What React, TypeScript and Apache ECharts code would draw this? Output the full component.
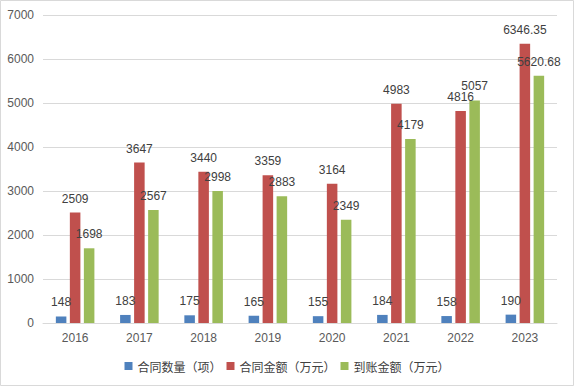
import React, { useEffect, useRef } from "react";
import * as echarts from "echarts";

const years = ["2016", "2017", "2018", "2019", "2020", "2021", "2022", "2023"];
const contractCount = [148, 183, 175, 165, 155, 184, 158, 190];
const contractAmount = [2509, 3647, 3440, 3359, 3164, 4983, 4816, 6346.35];
const receivedAmount = [1698, 2567, 2998, 2883, 2349, 4179, 5057, 5620.68];
const seriesNames = ["合同数量（项）", "合同金额（万元）", "到账金额（万元）"];
const colors = ["#4F81BD", "#C0504D", "#9BBB59"];

export default function App() {
  const ref = useRef<HTMLDivElement>(null);
  useEffect(() => {
    if (!ref.current) return;
    const chart = echarts.init(ref.current, null, { renderer: "svg" });
    const numFont = "'Liberation Sans', Arial, sans-serif";
    const label = {
      show: true,
      position: "top",
      distance: 8,
      color: "#404040",
      fontSize: 12,
      fontFamily: numFont,
    };
    const datas = [contractCount, contractAmount, receivedAmount];
    chart.setOption({
      animation: false,
      backgroundColor: "#ffffff",
      color: colors,
      graphic: [
        {
          type: "rect",
          shape: { x: 0.5, y: 0.5, width: 573, height: 385 },
          style: { fill: "none", stroke: "#D9D9D9", lineWidth: 1 },
          silent: true,
        },
      ],
      grid: { left: 43, right: 17, top: 15, bottom: 63, containLabel: false },
      legend: {
        data: seriesNames,
        top: 355,
        left: "center",
        itemWidth: 8,
        itemHeight: 8,
        itemGap: 5,
        icon: "rect",
        textStyle: {
          fontSize: 12,
          color: "#404040",
          fontFamily: "'Noto Sans CJK SC', sans-serif",
        },
      },
      xAxis: {
        type: "category",
        data: years,
        axisLine: { lineStyle: { color: "#D9D9D9" } },
        axisTick: { show: false },
        axisLabel: { color: "#595959", fontSize: 12, fontFamily: numFont, margin: 9 },
      },
      yAxis: {
        type: "value",
        min: 0,
        max: 7000,
        interval: 1000,
        axisLine: { show: false },
        axisTick: { show: false },
        axisLabel: {
          color: "#595959",
          fontSize: 12,
          fontFamily: numFont,
          margin: 9,
          formatter: (v: number) => String(v),
        },
        splitLine: { lineStyle: { color: "#D9D9D9" } },
      },
      series: seriesNames.map((name, i) => ({
        name,
        type: "bar",
        data: datas[i],
        barGap: "33%",
        barCategoryGap: "40%",
        label,
      })),
    });
    return () => chart.dispose();
  }, []);
  return (
    <div
      ref={ref}
      style={{ position: "fixed", left: 0, top: 0, width: 574, height: 386 }}
    />
  );
}
